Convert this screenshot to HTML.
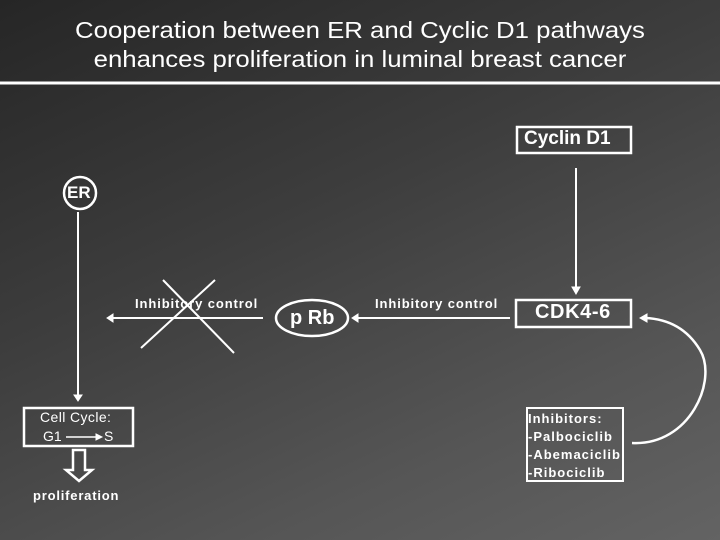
<!DOCTYPE html>
<html><head><style>
body{margin:0;width:720px;height:540px;overflow:hidden;background:linear-gradient(155deg,#262626 0%,#3d3d3d 40%,#555 75%,#636363 100%);font-family:"Liberation Sans",sans-serif;color:#fff;position:relative}
.t{position:absolute;white-space:nowrap;font-weight:bold}
</style></head><body>
<div class="t" style="left:0;width:720px;top:16px;text-align:center;font-size:23px;font-weight:normal;line-height:29px;transform:scaleX(1.12)">Cooperation between ER and Cyclic D1 pathways<br>enhances proliferation in luminal breast cancer</div>
<svg width="720" height="540" style="position:absolute;left:0;top:0" fill="none" stroke="#fff">
<line x1="0" y1="83" x2="720" y2="83" stroke-width="3"/>
<rect x="517" y="127" width="114" height="26" stroke-width="2.5"/>
<circle cx="80" cy="193" r="16" stroke-width="2.5"/>
<line x1="78" y1="212" x2="78" y2="396" stroke-width="2"/>
<polygon points="74,395 82,395 78,401" fill="#fff"/>
<rect x="24" y="408" width="109" height="38" stroke-width="2.5"/>
<line x1="66" y1="437" x2="98" y2="437" stroke-width="1.5"/>
<polygon points="96,434 102,437 96,440" fill="#fff"/>
<polygon points="73,450 85,450 85,470 92,470 79,481 66,470 73,470" stroke-width="2.5"/>
<line x1="112" y1="318" x2="263" y2="318" stroke-width="2"/>
<polygon points="113,314 113,322 107,318" fill="#fff"/>
<line x1="141" y1="348" x2="215" y2="280" stroke-width="2"/>
<line x1="163" y1="280" x2="234" y2="353" stroke-width="2"/>
<ellipse cx="312" cy="318" rx="36" ry="18" stroke-width="2.5"/>
<line x1="357" y1="318" x2="510" y2="318" stroke-width="2"/>
<polygon points="358,314 358,322 352,318" fill="#fff"/>
<rect x="516" y="300" width="115" height="27" stroke-width="2.5"/>
<line x1="576" y1="168" x2="576" y2="288" stroke-width="2"/>
<polygon points="572,287 580,287 576,294" fill="#fff"/>
<rect x="527" y="408" width="96" height="73" stroke-width="2"/>
<path d="M632,443 C690,446 718,380 700,350 C688,330 670,319 645,318" stroke-width="2.5"/>
<polygon points="647,314 647,322 640,318" fill="#fff"/>
</svg>
<div class="t" style="left:524px;top:128px;font-size:19px">Cyclin D1</div>
<div class="t" style="left:67px;top:183px;font-size:17px">ER</div>
<div class="t" style="left:40px;top:409px;font-size:14px;font-weight:normal;letter-spacing:0.4px">Cell Cycle:</div>
<div class="t" style="left:43px;top:428px;font-size:14px;font-weight:normal">G1</div>
<div class="t" style="left:104px;top:428px;font-size:14px;font-weight:normal">S</div>
<div class="t" style="left:33px;top:488px;font-size:13px;letter-spacing:0.8px">proliferation</div>
<div class="t" style="left:135px;top:296px;font-size:13px;letter-spacing:0.9px">Inhibitory control</div>
<div class="t" style="left:375px;top:296px;font-size:13px;letter-spacing:0.9px">Inhibitory control</div>
<div class="t" style="left:290px;top:307px;font-size:20px">p Rb</div>
<div class="t" style="left:535px;top:301px;font-size:20px;letter-spacing:0.6px">CDK4-6</div>
<div class="t" style="left:528px;top:410px;font-size:13px;line-height:18px;letter-spacing:1px">Inhibitors:<br>-Palbociclib<br>-Abemaciclib<br>-Ribociclib</div>
</body></html>
